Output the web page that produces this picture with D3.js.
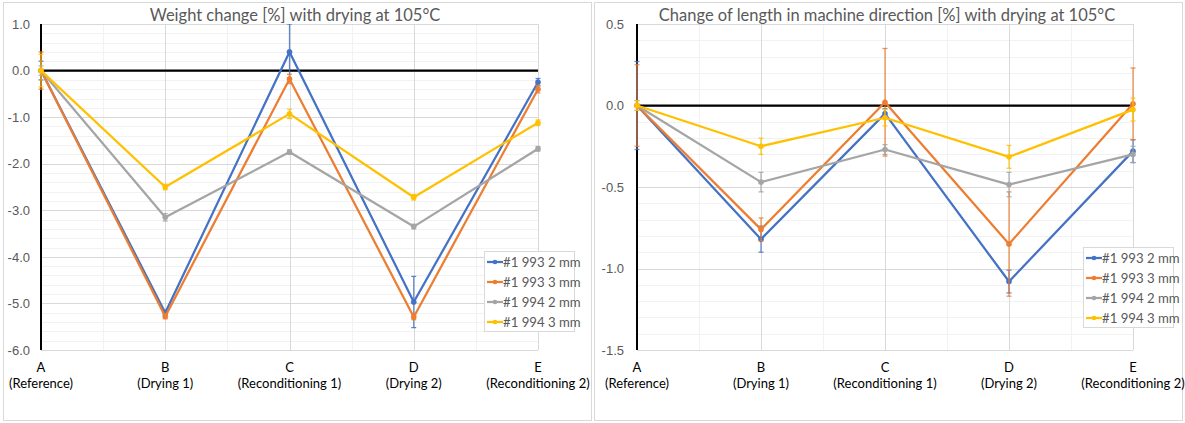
<!DOCTYPE html>
<html><head><meta charset="utf-8">
<script src="https://cdn.jsdelivr.net/npm/d3@7"></script>
<style>
html,body{margin:0;padding:0;background:#fff;}
svg{display:block;font-family:Lato,"Open Sans",sans-serif;}
</style></head>
<body>
<svg id="chart" width="1185" height="423"></svg>
<script>
// ---- data ----
const categories = ["A","B","C","D","E"];
const categorySubtitles = ["(Reference)","(Drying 1)","(Reconditioning 1)","(Drying 2)","(Reconditioning 2)"];
const seriesNames = ["#1 993 2 mm","#1 993 3 mm","#1 994 2 mm","#1 994 3 mm"];
const seriesColors = ["#4472C4","#ED7D31","#A5A5A5","#FFC000"];

const weightTitle = "Weight change [%] with drying at 105°C";
const weightTicks = [1.0, 0.0, -1.0, -2.0, -3.0, -4.0, -5.0, -6.0];
const weight993_2 = [0, -5.2, 0.4, -4.97, -0.25];
const weight993_3 = [0, -5.28, -0.18, -5.29, -0.4];
const weight994_2 = [0, -3.15, -1.75, -3.35, -1.68];
const weight994_3 = [0, -2.5, -0.93, -2.72, -1.12];
const weightErr993_2 = [0.2, 0.05, 0.6, 0.55, 0.08];
const weightErr993_3 = [0.4, 0.05, 0.1, 0.06, 0.08];
const weightErr994_2 = [0.1, 0.08, 0.05, 0.05, 0.05];
const weightErr994_3 = [0.35, 0.06, 0.1, 0.06, 0.06];

const lengthTitle = "Change of length in machine direction [%] with drying at 105°C";
const lengthTicks = [0.5, 0.0, -0.5, -1.0, -1.5];
const length993_2 = [0, -0.82, -0.05, -1.08, -0.28];
const length993_3 = [0, -0.76, 0.02, -0.85, 0.01];
const length994_2 = [0, -0.47, -0.27, -0.485, -0.3];
const length994_3 = [0, -0.25, -0.075, -0.315, -0.025];
const lengthErr993_2 = [0.27, 0.08, 0.03, 0.07, 0.07];
const lengthErr993_3 = [0.25, 0.07, 0.33, 0.32, 0.22];
const lengthErr994_2 = [0.03, 0.06, 0.03, 0.075, 0.05];
const lengthErr994_3 = [0.03, 0.05, 0.05, 0.07, 0.07];

const svg = d3.select("#chart");

function drawChart(cfg) {
  const g = svg.append("g");
  // panel border
  g.append("rect").attr("x", cfg.panel[0] + 0.5).attr("y", 2.5)
    .attr("width", cfg.panel[1] - cfg.panel[0]).attr("height", 418)
    .attr("fill", "#fff").attr("stroke", "#D9D9D9").attr("stroke-width", 1);

  const x = d3.scalePoint().domain(categories).range(cfg.xRange);
  const y = d3.scaleLinear().domain(cfg.yDomain).range([350, 24]);
  const [x0, x1] = cfg.xRange;

  // minor horizontal gridlines
  const minor = d3.range(cfg.yDomain[0], cfg.yDomain[1] + 1e-9, cfg.minorStep);
  g.append("g").selectAll("line").data(minor).join("line")
    .attr("x1", x0).attr("x2", x1)
    .attr("y1", d => Math.round(y(d)) + 0.5).attr("y2", d => Math.round(y(d)) + 0.5)
    .attr("stroke", "#F2F2F2").attr("stroke-width", 1);
  // minor vertical gridlines (midpoints)
  const mids = categories.slice(1).map((c, i) => (x(c) + x(categories[i])) / 2);
  g.append("g").selectAll("line").data(mids).join("line")
    .attr("x1", d => Math.round(d) + 0.5).attr("x2", d => Math.round(d) + 0.5)
    .attr("y1", 24).attr("y2", 350)
    .attr("stroke", "#F2F2F2").attr("stroke-width", 1);
  // major horizontal gridlines
  g.append("g").selectAll("line").data(cfg.ticks).join("line")
    .attr("x1", x0).attr("x2", x1)
    .attr("y1", d => Math.round(y(d)) + 0.5).attr("y2", d => Math.round(y(d)) + 0.5)
    .attr("stroke", "#D9D9D9").attr("stroke-width", 1);
  // major vertical gridlines
  g.append("g").selectAll("line").data(categories.slice(1)).join("line")
    .attr("x1", d => Math.round(x(d)) + 0.5).attr("x2", d => Math.round(x(d)) + 0.5)
    .attr("y1", 24).attr("y2", 350)
    .attr("stroke", "#D9D9D9").attr("stroke-width", 1);

  // y axis via d3.axisLeft
  const yAxis = d3.axisLeft(y).tickValues(cfg.ticks).tickSize(0).tickPadding(cfg.tickPad);
  const ya = g.append("g").attr("transform", `translate(${x0},0)`).call(yAxis);
  ya.select(".domain").remove();
  ya.selectAll("text").attr("fill", "#595959").attr("font-size", 13)
    .text(d => d3.format(".1f")(d).replace("−", "-"));

  // x axis labels
  const xa = g.append("g");
  categories.forEach((c, i) => {
    const t = xa.append("text").attr("x", x(c)).attr("text-anchor", "middle")
      .attr("fill", "#000").attr("font-size", 13);
    t.append("tspan").attr("x", x(c)).attr("y", 372).text(c);
    t.append("tspan").attr("x", x(c)).attr("y", 388).text(categorySubtitles[i]);
  });

  // axis lines (black)
  g.append("line").attr("x1", x0).attr("x2", x0).attr("y1", 24).attr("y2", 350)
    .attr("stroke", "#000").attr("stroke-width", 2);
  g.append("line").attr("x1", x0).attr("x2", x1).attr("y1", y(0)).attr("y2", y(0))
    .attr("stroke", "#000").attr("stroke-width", 2.25);

  // clip
  const clipId = "clip" + cfg.id;
  svg.append("defs").append("clipPath").attr("id", clipId)
    .append("rect").attr("x", x0 - 6).attr("y", 24).attr("width", x1 - x0 + 12).attr("height", 326);
  const plot = g.append("g").attr("clip-path", `url(#${clipId})`);

  const line = d3.line().x((d, i) => x(categories[i])).y(d => y(d));
  cfg.series.forEach((vals, s) => {
    const col = seriesColors[s];
    const errs = cfg.errors[s];
    const sg = plot.append("g");
    sg.append("path").datum(vals).attr("d", line).attr("fill", "none")
      .attr("stroke", col).attr("stroke-width", 2.25).attr("stroke-linejoin", "round");
    // error bars
    vals.forEach((v, i) => {
      const cx = x(categories[i]);
      const ya1 = y(v + errs[i]), ya2 = y(v - errs[i]);
      sg.append("line").attr("x1", cx).attr("x2", cx).attr("y1", ya1).attr("y2", ya2)
        .attr("stroke", col).attr("stroke-width", 1.25).attr("opacity", 0.85);
      [ya1, ya2].forEach(yy => sg.append("line").attr("x1", cx - 2.5).attr("x2", cx + 2.5)
        .attr("y1", yy).attr("y2", yy).attr("stroke", col).attr("stroke-width", 1.25).attr("opacity", 0.85));
    });
    sg.selectAll("circle").data(vals).join("circle")
      .attr("cx", (d, i) => x(categories[i])).attr("cy", d => y(d)).attr("r", 2.6)
      .attr("fill", col).attr("stroke", col).attr("stroke-width", 0.5);
  });

  // title
  g.append("text").attr("x", cfg.titleX).attr("y", 21).attr("text-anchor", "middle")
    .attr("fill", "#595959").attr("font-size", 16.5).text(cfg.title);

  // legend
  const [lx, ly] = cfg.legend;
  const lg = g.append("g").attr("transform", `translate(${lx},${ly})`);
  lg.append("rect").attr("x", 0.5).attr("y", 0.5).attr("width", 90).attr("height", 80)
    .attr("fill", "#fff").attr("stroke", "#D9D9D9");
  seriesNames.forEach((n, i) => {
    const yy = 11 + i * 20;
    lg.append("line").attr("x1", 3).attr("x2", 19).attr("y1", yy).attr("y2", yy)
      .attr("stroke", seriesColors[i]).attr("stroke-width", 2.25);
    lg.append("circle").attr("cx", 11).attr("cy", yy).attr("r", 2.3).attr("fill", seriesColors[i]);
    lg.append("text").attr("x", 19).attr("y", yy + 4.5).attr("fill", "#595959")
      .attr("font-size", 13.2).text(n);
  });
}

drawChart({
  id: "w", panel: [3, 591], xRange: [41, 538], yDomain: [-6, 1], ticks: weightTicks, minorStep: 0.2,
  tickPad: 11, title: weightTitle, titleX: 295, legend: [484, 251],
  series: [weight993_2, weight993_3, weight994_2, weight994_3],
  errors: [weightErr993_2, weightErr993_3, weightErr994_2, weightErr994_3]
});
drawChart({
  id: "l", panel: [594, 1182], xRange: [637, 1133], yDomain: [-1.5, 0.5], ticks: lengthTicks, minorStep: 0.1,
  tickPad: 13, title: lengthTitle, titleX: 887, legend: [1083, 247],
  series: [length993_2, length993_3, length994_2, length994_3],
  errors: [lengthErr993_2, lengthErr993_3, lengthErr994_2, lengthErr994_3]
});
</script>
</body></html>
